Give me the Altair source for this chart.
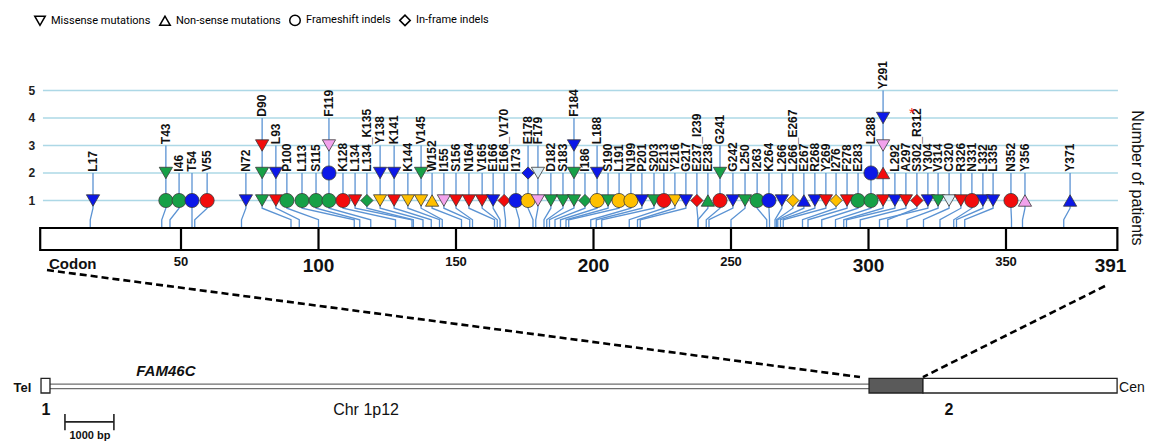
import altair as alt
import pandas as pd

# ---------------- data ----------------
mut_label = ["L17", "T43", "I46", "T54", "V55", "N72", "D90", "L93", "P100", "L113", "S115", "F119",
             "K128", "L134", "L134_K135", "Y138", "K141", "K144", "V145", "W152", "I155", "S156", "N164",
             "V165", "E166", "E166_V170", "I173", "E178", "F179", "D182", "S183", "F184", "I186", "L188",
             "S190", "L191", "N199", "P201", "S203", "E213", "Y216", "G217", "E237_I239", "E238", "G241",
             "G242", "L250", "I263", "K264", "L266", "L266_E267", "E267", "R268", "Y269", "I276", "F278",
             "E283", "L288", "Y291", "L292", "A297", "S302_R312", "Y304", "V314", "C320", "R326", "N331",
             "L332", "L335", "N352", "Y356", "Y371"]
# codon where the mutation sits on the protein bar
mut_codon = [17, 43, 46, 54, 55, 72, 90, 93, 100, 113, 115, 119,
             128, 134, 134.5, 138, 141, 144, 145, 152, 155, 156, 164,
             165, 166, 168, 173, 178, 179, 182, 183, 184, 186, 188,
             190, 191, 199, 201, 203, 213, 216, 217, 238, 238, 241,
             242, 250, 263, 264, 266, 266.5, 267, 268, 269, 276, 278,
             283, 288, 291, 292, 297, 307, 304, 314, 320, 326, 331,
             332, 335, 352, 356, 371]
# spread-out position (in codon units) where the lollipop is drawn
mut_slot = [18.0, 44.5, 49.3, 54.0, 59.5, 73.6, 79.5, 84.5, 88.5, 94.0, 99.1, 103.8,
            108.9, 113.3, 117.6, 122.4, 127.5, 132.5, 137.3, 141.3, 145.6, 150.0, 154.7,
            159.5, 163.5, 167.5, 171.8, 176.2, 179.8, 184.5, 188.9, 192.9, 196.9, 201.3,
            205.3, 209.3, 213.6, 217.6, 222.0, 225.6, 229.6, 233.6, 237.6, 241.6, 246.0,
            250.7, 255.1, 259.5, 263.8, 268.5, 272.5, 276.5, 280.5, 284.5, 288.2, 292.2,
            296.2, 300.9, 305.3, 309.6, 313.6, 317.6, 321.6, 325.3, 329.3, 333.6, 337.6,
            341.6, 345.3, 351.8, 356.9, 373.3]
# stacked patients, bottom to top: type letter + colour letter
mut_markers = ["Mb", "Fg Mg", "Fg", "Fb", "Fr", "Mb", "Mg Mg Mr", "Mr Mb", "Fg", "Fg", "Fg", "Fg Fb Mp",
               "Fr", "Mr", "Ig", "My Mb", "Mr Mb", "My", "My Mg", "Ny", "Mp", "Mr", "Mr",
               "Mr", "Mb", "Ir", "Fb", "Fy Ib", "Mp Ml", "Mg", "Mg", "Mg Mg Mb", "Ig", "Fy Mb",
               "Mg", "Fy", "Fy", "Mb", "Mg", "Fr", "My", "Mb", "Ir", "Ng", "Fr Mg",
               "Mb", "Mg", "Fg", "Fb", "Mb", "Iy", "Nb", "Mb", "Mr", "Iy", "Mr",
               "Fg", "Fg Fb", "Mr Nr Mp Mb", "Mb", "Mr", "Ir", "Mb", "Mg", "Ml", "Mr", "Fr",
               "Mb", "Mb", "Fr", "Np", "Nb"]

type_names = {"M": "Missense mutations", "N": "Non-sense mutations",
              "F": "Frameshift indels", "I": "In-frame indels"}
type_order = ["Missense mutations", "Non-sense mutations", "Frameshift indels", "In-frame indels"]
type_shapes = ["triangle-down", "triangle-up", "circle", "diamond"]
color_hex = {"g": "#17a047", "b": "#0c18e8", "r": "#f20c0c", "y": "#ffc000",
             "p": "#f2a2ec", "l": "#dcedf5"}

grid_levels = [1, 2, 3, 4, 5]
divider_codons = [50, 100, 150, 200, 250, 300, 350]
tick_text = ["50", "100", "150", "200", "250", "300", "350", "391"]
tick_pos = [50, 100, 150, 200, 250, 300, 350, 388]
tick_fs = [13, 19, 13, 19, 13, 19, 13, 19]

assert len(mut_label) == len(mut_codon) == len(mut_slot) == len(mut_markers)

# ---------------- frames ----------------
W, H = 1137, 433
XS = alt.Scale(domain=[-12.909, 400.545], nice=False, zero=False)
YS = alt.Scale(domain=[-7.745, 8.0], nice=False, zero=False)
SANS = "Liberation Sans"
LEG = "Roboto"

def X(f):
    return alt.X(f, type="quantitative", scale=XS, axis=None)

def Y(f):
    return alt.Y(f, type="quantitative", scale=YS, axis=None)

# points / paths
pts, paths, labs = [], [], []
shape_size = {"triangle-down": 175, "triangle-up": 175, "circle": 200, "diamond": 150}
for lab, cod, slot, codes in zip(mut_label, mut_codon, mut_slot, mut_markers):
    cl = codes.split()
    for k, c in enumerate(cl):
        t = type_names[c[0]]
        pts.append(dict(label=lab, x=slot, y=k + 1, type=t, fill=color_hex[c[1]],
                        sz=shape_size[type_shapes[type_order.index(t)]]))
    top = len(cl) + 1
    for o, (px, py) in enumerate([(slot, top), (slot, 0.72), (cod, 0.3), (cod, 0)]):
        paths.append(dict(label=lab, o=o, x=px, y=py))
    labs.append(dict(label=lab, x=slot, y=top + 0.05))
pts = pd.DataFrame(pts)
paths = pd.DataFrame(paths)
labs = pd.DataFrame(labs)

grid = pd.DataFrame(dict(y=grid_levels, x=[-0.2] * 5, x2=[390.7] * 5))
gridl = alt.Chart(grid).mark_rule(color="#add8e6", strokeWidth=1.3).encode(X("x"), x2="x2", y=Y("y"))
ylab = alt.Chart(pd.DataFrame(dict(y=grid_levels, x=[-4.2] * 5, t=[str(v) for v in grid_levels]))).mark_text(
    font=SANS, fontSize=12, fontWeight="bold", color="#222").encode(X("x"), Y("y"), text="t:N")

conn = alt.Chart(paths).mark_line(color="#5b93d3", strokeWidth=1.3).encode(
    X("x"), Y("y"), detail="label:N", order="o:Q")

box = alt.Chart(pd.DataFrame(dict(x=[-1.2], x2=[390.5], y=[0], y2=[-0.8]))).mark_rect(
    fill="white", stroke="black", strokeWidth=2.2).encode(X("x"), x2="x2", y=Y("y"), y2="y2")
divs = alt.Chart(pd.DataFrame(dict(x=divider_codons, y=[0] * 7, y2=[-0.8] * 7))).mark_rule(
    color="black", strokeWidth=2.2).encode(X("x"), y=Y("y"), y2="y2")

ticks = alt.Chart(pd.DataFrame(dict(x=tick_pos, t=tick_text, fs=tick_fs,
                                    y=[-1.22 if f < 15 else -1.38 for f in tick_fs]))).mark_text(
    font=SANS, fontWeight="bold", color="#111").encode(
    X("x"), Y("y"), text="t:N", size=alt.Size("fs:Q", scale=None))
codon_t = alt.Chart(pd.DataFrame(dict(x=[2.0], y=[-1.32], t=["Codon"]))).mark_text(
    font=SANS, fontSize=15, fontWeight="bold", align="left", color="#111").encode(X("x"), Y("y"), text="t:N")

points = alt.Chart(pts).mark_point(filled=True, opacity=1, stroke="#3a3a3a", strokeWidth=0.8).encode(
    X("x"), Y("y"),
    shape=alt.Shape("type:N", scale=alt.Scale(domain=type_order, range=type_shapes),
                    legend=alt.Legend(title=None, orient="none", legendX=26, legendY=6,
                                      direction="horizontal", symbolFillColor="white",
                                      symbolStrokeColor="black", symbolStrokeWidth=1.5,
                                      symbolSize=110, labelFont=LEG, labelFontSize=11,
                                      labelColor="black", columnPadding=5, labelOffset=5,
                                      padding=0)),
    fill=alt.Fill("fill:N", scale=None),
    size=alt.Size("sz:Q", scale=None),
)

mlabels = alt.Chart(labs).mark_text(font=SANS, fontSize=12, fontWeight="bold", angle=270,
                                    align="left", baseline="middle", color="#111").encode(
    X("x"), Y("y"), text="label:N")

star = alt.Chart(pd.DataFrame(dict(x=[315.8], y=[4.2], t=["*"]))).mark_text(
    font=SANS, fontSize=15, color="#ff2020").encode(X("x"), Y("y"), text="t:N")

ytitle = alt.Chart(pd.DataFrame(dict(x=[397.6], y=[1.82], t=["Number  of patients"]))).mark_text(
    font=SANS, fontSize=16, angle=90, baseline="middle", color="#111").encode(X("x"), Y("y"), text="t:N")

# ---------------- gene diagram ----------------
gene_x = [-0.9, 300.2, 319.8]
gene_x2 = [2.36, 319.8, 390.4]
gene_fill = ["white", "#5a5a5a", "white"]
exons = alt.Chart(pd.DataFrame(dict(x=gene_x, x2=gene_x2, y=[-5.47] * 3, y2=[-6.0] * 3, f=gene_fill))).mark_rect(
    stroke="#222", strokeWidth=1.3).encode(X("x"), x2="x2", y=Y("y"), y2="y2", fill=alt.Fill("f:N", scale=None))
intron = alt.Chart(pd.DataFrame(dict(x=[2.36, 2.36], x2=[300.2, 300.2], y=[-5.68, -5.84]))).mark_rule(
    color="#6e6e6e", strokeWidth=1.2).encode(X("x"), x2="x2", y=Y("y"))
dash = alt.Chart(pd.DataFrame(dict(x=[1.27, 386.0], y=[-1.53, -2.11], x2=[296.9, 319.8], y2=[-5.42, -5.42]))).mark_rule(
    color="black", strokeWidth=2.6, strokeDash=[7, 4]).encode(X("x"), x2="x2", y=Y("y"), y2="y2")
sbar = alt.Chart(pd.DataFrame(dict(x=[7.8, 7.8, 25.6], x2=[25.6, 7.8, 25.6],
                                   y=[-7.05, -6.76, -6.76], y2=[-7.05, -7.35, -7.35]))).mark_rule(
    color="#222", strokeWidth=1.6).encode(X("x"), x2="x2", y=Y("y"), y2="y2")

def note(texts, xs, ys, size, weight="normal", style="normal", align="center"):
    return alt.Chart(pd.DataFrame(dict(x=xs, y=ys, t=texts))).mark_text(
        font=SANS, fontSize=size, fontWeight=weight, fontStyle=style, align=align, color="#111").encode(
        X("x"), Y("y"), text="t:N")

tel = note(["Tel"], [-4.4], [-5.8], 13, "bold", align="right")
cen = note(["Cen"], [391.1], [-5.82], 14, align="left")
exnum = note(["1", "2"], [0.9, 329.3], [-6.6, -6.6], 16, "bold")
fam = note(["FAM46C"], [44.5], [-5.2], 15, "bold", "italic")
chrt = note(["Chr 1p12"], [117.3], [-6.62], 16)
bp = note(["1000 bp"], [16.9], [-7.58], 11, "bold")

chart = alt.layer(gridl, ylab, conn, box, divs, ticks, codon_t, points, mlabels, star, ytitle,
                  dash, intron, exons, sbar, tel, cen, exnum, fam, chrt, bp).properties(
    width=W, height=H, padding=0, autosize=alt.AutoSizeParams(type="none"),
    background="white").configure_view(stroke=None)

chart.save("out.html", embed_options={"renderer": "svg", "actions": False})
